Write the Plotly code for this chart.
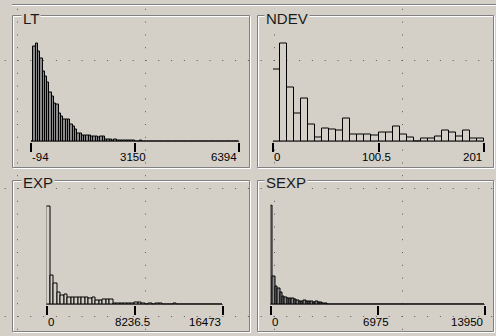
import plotly.graph_objects as go

W, H = 496, 336
BG = "#D4D0C8"

# ---------------- data ----------------
lt_range = [-94, 6394]
lt_tick_labels = ["-94", "3150", "6394"]
lt_counts = [0, 94.7, 98, 90.3, 82.7, 70.3, 65.3, 58.7, 49.3, 45.3, 38, 37, 28, 24.7, 22, 22, 22,
             17, 14.7, 12, 8, 7.7, 6, 6, 6, 6, 4.7, 5.3, 5.3, 3.7, 5.3, 5.3, 2, 2, 2, 1.3, 2,
             1, 1, 1, 1, 1, 1, 1, 0.6, 0, 0, 1.5] + [0] * 42

ndev_range = [0, 201]
ndev_tick_labels = ["0", "100.5", "201"]
ndev_counts = [71.7, 97.7, 54.3, 28.3, 43.3, 16.7, 4, 13.3, 12.3, 10.7, 22.7, 6.7, 6.7, 6.7, 6,
               9, 9, 15, 7, 4, 0, 3, 3, 5, 10.6, 9, 5, 10.6, 3, 3]

exp_range = [0, 16473]
exp_tick_labels = ["0", "8236.5", "16473"]
exp_counts = [98.3, 29, 20.7, 12.3, 9, 10, 6.7, 7.3, 7.3, 6.7, 7.3, 6.7, 5.7, 6.7, 4, 4, 4.7, 4.7,
              4.7, 1, 1, 1, 1, 1, 1, 2, 2, 1, 0, 1, 0, 1, 1, 0, 0, 0, 1] + [0] * 13

sexp_range = [0, 13950]
sexp_tick_labels = ["0", "6975", "13950"]
sexp_counts = [98.7, 28.3, 18.3, 16, 12, 8.3, 7, 6, 6, 6, 5, 4.3, 3.3, 3.3, 3.7, 3.3, 2.7, 2.7,
               2, 2.7, 1.7, 1.7, 1, 1] + [0] * 66

# ---------------- layout helpers ----------------
def fx(x):
    return x / W

def fy(y):
    return 1 - y / H

panels = [
    dict(title="LT", counts=lt_counts, rng=lt_range, labels=lt_tick_labels, fill="#8a8a8a",
         x0=31, x1=239, base=141.5, box=(12.5, 15.5, 249.5, 167.5), tx=21, ty=18, ly=157),
    dict(title="NDEV", counts=ndev_counts, rng=ndev_range, labels=ndev_tick_labels, fill=BG,
         x0=273, x1=484, base=141.5, box=(257.5, 15.5, 493.5, 167.5), tx=264, ty=18, ly=157),
    dict(title="EXP", counts=exp_counts, rng=exp_range, labels=exp_tick_labels, fill=BG,
         x0=46.5, x1=222.5, base=304.5, box=(12.5, 180.5, 249.5, 331.5), tx=21, ty=182, ly=322),
    dict(title="SEXP", counts=sexp_counts, rng=sexp_range, labels=sexp_tick_labels, fill="#8a8a8a",
         x0=270.5, x1=484.5, base=304.5, box=(257.5, 180.5, 493.5, 331.5), tx=264, ty=182, ly=322),
]

fig = go.Figure()
shapes = []
annotations = []
layout_axes = {}

# dotted background grid of the dialog
DOT = "#5a5a5a"
for gx in [17.5, 145.5, 274.5, 402.5]:
    shapes.append(dict(type="line", xref="paper", yref="paper", layer="below",
                       x0=fx(gx), x1=fx(gx), y0=fy(8.8), y1=fy(336),
                       line=dict(color=DOT, width=1, dash="1px,11.8px")))
for gy in [60.5, 188.5, 316.5]:
    shapes.append(dict(type="line", xref="paper", yref="paper", layer="below",
                       x0=fx(4.7), x1=fx(496), y0=fy(gy), y1=fy(gy),
                       line=dict(color=DOT, width=1, dash="1px,11.8px")))

# top etched line
shapes.append(dict(type="line", xref="paper", yref="paper", layer="below",
                   x0=fx(12), x1=fx(496), y0=fy(4.5), y1=fy(4.5),
                   line=dict(color="#808080", width=1)))
shapes.append(dict(type="line", xref="paper", yref="paper", layer="below",
                   x0=fx(12), x1=fx(496), y0=fy(5.5), y1=fy(5.5),
                   line=dict(color="#FFFFFF", width=1)))

for i, p in enumerate(panels, start=1):
    sfx = "" if i == 1 else str(i)
    lo, hi = p["rng"]
    n = len(p["counts"])
    w = (hi - lo) / n
    centers = [lo + (k + 0.5) * w for k in range(n)]
    fig.add_trace(go.Bar(
        x=centers, y=p["counts"], width=w,
        marker=dict(color=p["fill"], line=dict(color="#000000", width=1)),
        xaxis="x" + sfx, yaxis="y" + sfx, showlegend=False, hoverinfo="skip"))

    mid = (lo + hi) / 2
    layout_axes["xaxis" + sfx] = dict(
        domain=[fx(p["x0"]), fx(p["x1"])], range=[lo, hi], anchor="y" + sfx,
        showgrid=False, zeroline=False, showline=False,
        ticks="outside", tickvals=[lo, mid, hi], ticklen=9, tickwidth=2,
        tickcolor="#000000", showticklabels=False, fixedrange=True)
    layout_axes["yaxis" + sfx] = dict(
        domain=[fy(p["base"]), fy(p["base"] - 100)], range=[0, 100], anchor="x" + sfx,
        visible=False, fixedrange=True)

    # axis bar
    shapes.append(dict(type="rect", xref="x%s domain" % sfx, yref="y" + sfx,
                       ysizemode="pixel", yanchor=0, x0=0, x1=1, y0=-5, y1=0,
                       fillcolor="#808080", line=dict(color="#000000", width=1), layer="above"))

    # etched group box
    bx0, by0, bx1, by1 = p["box"]
    shapes.append(dict(type="rect", xref="paper", yref="paper", layer="below",
                       x0=fx(bx0 + 1), x1=fx(bx1 + 1), y0=fy(by0 + 1), y1=fy(by1 + 1),
                       line=dict(color="#FFFFFF", width=1)))
    shapes.append(dict(type="rect", xref="paper", yref="paper", layer="below",
                       x0=fx(bx0), x1=fx(bx1), y0=fy(by0), y1=fy(by1),
                       line=dict(color="#808080", width=1)))

    # title
    annotations.append(dict(text=p["title"], xref="paper", yref="paper",
                            x=fx(p["tx"]), y=fy(p["ty"]), xanchor="left", yanchor="middle",
                            showarrow=False, bgcolor=BG, borderpad=1,
                            font=dict(family="Liberation Sans, Arial", size=15, color="#1a1a1a")))
    # tick labels
    for val, lab, anc, sh in zip([lo, mid, hi], p["labels"], ["left", "center", "right"], [-1, -2, 0]):
        annotations.append(dict(text=lab, xref="x" + sfx, yref="paper", x=val, y=fy(p["ly"]),
                                xanchor=anc, yanchor="middle", xshift=sh, showarrow=False,
                                font=dict(family="Liberation Sans, Arial", size=11.5, color="#000000")))

fig.update_layout(
    width=W, height=H, margin=dict(l=0, r=0, t=0, b=0),
    paper_bgcolor=BG, plot_bgcolor="rgba(0,0,0,0)",
    bargap=0, shapes=shapes, annotations=annotations, **layout_axes)

fig.write_html("out.html")
